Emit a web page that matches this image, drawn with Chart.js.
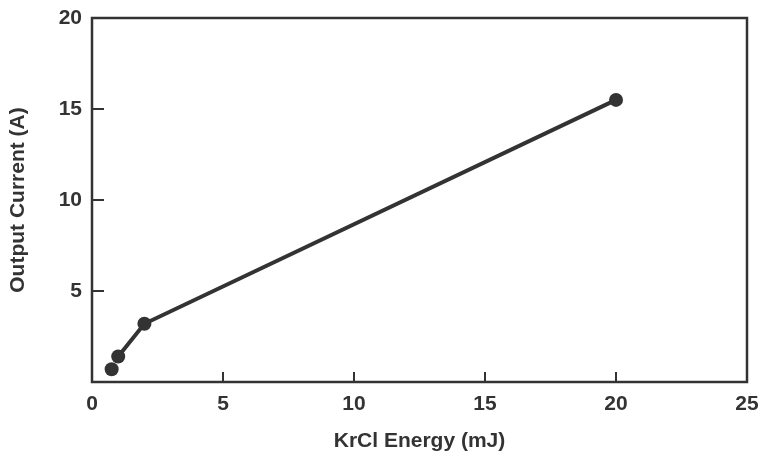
<!DOCTYPE html>
<html>
<head>
<meta charset="utf-8">
<script src="https://cdn.jsdelivr.net/npm/chart.js@4.4.1/dist/chart.umd.min.js"></script>
<style>
  html, body { margin: 0; padding: 0; background: #fff; }
  #wrap { width: 762px; height: 458px; }
</style>
</head>
<body>
<div id="wrap"><canvas id="chart"></canvas></div>
<script>
// data
const energy = [1.0, 2.0, 20.0];        // KrCl energy (mJ), connected points
const current = [1.4, 3.2, 15.5];       // output current (A)
const loneEnergy = [0.75];              // first point, not joined to the line
const loneCurrent = [0.7];
const xTicks = [0, 5, 10, 15, 20, 25];
const yTicks = [5, 10, 15, 20];

const ink = '#333333';
const font = { family: '"Liberation Sans", Arial, sans-serif', size: 21, weight: 'bold' };

// box around the plot + inward tick marks
const framePlugin = {
  id: 'frame',
  afterDraw(chart) {
    const { ctx, chartArea: a, scales } = chart;
    ctx.save();
    ctx.strokeStyle = ink;
    ctx.lineWidth = 2.5;
    ctx.strokeRect(a.left, a.top, a.right - a.left, a.bottom - a.top);
    ctx.lineWidth = 2;
    ctx.beginPath();
    xTicks.forEach(v => {
      const x = scales.x.getPixelForValue(v);
      ctx.moveTo(x, a.bottom);
      ctx.lineTo(x, a.bottom - 10);
    });
    yTicks.forEach(v => {
      const y = scales.y.getPixelForValue(v);
      ctx.moveTo(a.left, y);
      ctx.lineTo(a.left + 12, y);
    });
    ctx.stroke();
    ctx.restore();
  }
};

new Chart(document.getElementById('chart'), {
  type: 'scatter',
  data: {
    datasets: [{
      data: energy.map((e, i) => ({ x: e, y: current[i] })),
      showLine: true,
      borderColor: ink,
      backgroundColor: ink,
      borderWidth: 4,
      pointRadius: 7,
      pointBorderWidth: 0
    }, {
      data: loneEnergy.map((e, i) => ({ x: e, y: loneCurrent[i] })),
      borderColor: ink,
      backgroundColor: ink,
      pointRadius: 7,
      pointBorderWidth: 0
    }]
  },
  options: {
    responsive: true,
    maintainAspectRatio: false,
    animation: false,
    layout: { padding: { left: 0, right: 15, top: 18, bottom: 0 } },
    plugins: { legend: { display: false }, tooltip: { enabled: false } },
    scales: {
      x: {
        type: 'linear',
        min: 0, max: 25,
        afterFit: s => { s.height = 76; s.paddingLeft = 0; s.paddingRight = 0; },
        afterBuildTicks: s => { s.ticks = xTicks.map(v => ({ value: v })); },
        grid: { display: false, drawTicks: false },
        border: { display: false },
        ticks: { color: ink, font, padding: 10 },
        title: { display: true, text: 'KrCl Energy (mJ)', color: ink, font, padding: { top: 4, bottom: 4 } }
      },
      y: {
        type: 'linear',
        min: 0, max: 20,
        afterFit: s => { s.width = 92; s.paddingTop = 0; s.paddingBottom = 0; },
        afterBuildTicks: s => { s.ticks = yTicks.map(v => ({ value: v })); },
        grid: { display: false, drawTicks: false },
        border: { display: false },
        ticks: { color: ink, font, padding: 10 },
        title: { display: true, text: 'Output Current (A)', color: ink, font, padding: { bottom: 0, top: 6 } }
      }
    }
  },
  plugins: [framePlugin]
});
</script>
</body>
</html>
